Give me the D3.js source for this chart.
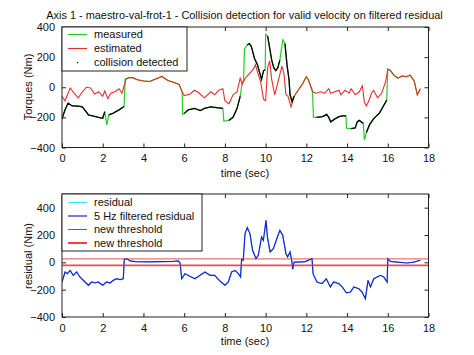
<!DOCTYPE html>
<html>
<head>
<meta charset="utf-8">
<script src="https://cdn.jsdelivr.net/npm/d3@7"></script>
<style>
  html, body { margin: 0; padding: 0; background: #fff; }
  svg { display: block; }
  text { font-family: "Liberation Sans", Arial, Helvetica, sans-serif; fill: #111; }
</style>
</head>
<body>
<script>
// ---------- data ----------
const titleText = "Axis 1 - maestro-val-frot-1 - Collision detection for valid velocity on filtered residual";
const xTicks = [0, 2, 4, 6, 8, 10, 12, 14, 16, 18];
const topYTicks = [-400, -200, 0, 200, 400];
const bottomYTicks = [-400, -200, 0, 200, 400];

const estimatedT = [0,0.15,0.3,0.4,0.6,0.8,1.0,1.2,1.4,1.6,1.8,2.0,2.1,2.25,2.4,2.6,2.8,2.95,3.05,3.15,3.3,3.5,3.7,4.0,4.3,4.6,4.9,5.2,5.5,5.75,5.9,6.0,6.3,6.5,6.7,7.0,7.3,7.5,7.7,7.9,8.0,8.2,8.4,8.6,8.75,8.85,9.0,9.2,9.4,9.5,9.6,9.75,9.9,10.0,10.1,10.2,10.3,10.45,10.6,10.8,10.9,11.0,11.1,11.25,11.4,11.6,11.8,12.0,12.1,12.3,12.5,12.7,12.9,13.1,13.2,13.4,13.6,13.7,13.9,14.1,14.2,14.4,14.6,14.75,14.85,14.95,15.1,15.2,15.3,15.5,15.7,15.9,16.0,16.1,16.3,16.5,16.7,16.9,17.1,17.3,17.45,17.6];
const estimatedV = [-60,-90,-40,-5,-40,-70,-30,0,-5,-45,-30,-60,-25,-75,-40,-30,-10,-40,10,55,65,62,50,42,38,55,72,45,32,18,-30,-55,-45,-20,-35,-70,-30,-50,-20,-10,-90,-110,-50,-30,60,20,60,90,120,150,100,40,-80,-90,130,175,50,-50,30,140,90,-50,-60,-130,-60,-20,20,70,50,-30,-40,-30,-40,-10,-40,-30,-20,-50,-20,-40,-10,-50,-30,10,-100,-125,-80,-40,-20,-70,-40,40,120,115,80,60,75,70,80,40,-50,-10];

const measuredT = [0,0.15,0.3,0.5,0.8,1.0,1.3,1.5,1.8,2.0,2.1,2.2,2.3,2.5,2.8,3.05,3.1,3.15,3.3,3.5,3.7,4.0,4.3,4.6,4.9,5.2,5.5,5.75,5.9,5.92,6.0,6.2,6.5,6.8,7.0,7.3,7.6,7.9,7.95,8.2,8.4,8.6,8.75,8.85,8.92,8.96,9.1,9.2,9.3,9.45,9.6,9.7,9.8,9.9,9.98,10.0,10.1,10.2,10.3,10.4,10.5,10.6,10.7,10.75,10.85,10.95,11.05,11.15,11.2,11.3,11.4,11.6,11.8,12.0,12.1,12.3,12.35,12.5,12.8,13.0,13.1,13.2,13.4,13.6,13.8,13.95,13.97,14.2,14.4,14.5,14.6,14.8,14.85,14.95,15.1,15.3,15.6,15.95,16.0,16.1,16.3,16.5,16.7,16.9,17.1,17.3,17.45,17.6];
const measuredV = [-210,-150,-106,-124,-125,-130,-184,-190,-200,-206,-162,-250,-184,-173,-150,-128,55,55,65,62,50,42,38,55,72,45,32,18,-30,-180,-175,-150,-140,-155,-140,-130,-135,-140,-225,-220,-200,-140,-60,27,50,253,281,290,270,193,150,100,53,110,115,352,340,260,180,130,110,130,180,230,315,290,150,50,-50,-95,-60,-20,20,70,50,-20,-200,-200,-195,-180,-200,-230,-210,-195,-190,-190,-272,-275,-270,-230,-220,-240,-350,-300,-250,-210,-170,-85,120,115,80,60,75,70,80,40,-50,-10];

// time intervals where a collision was flagged (black dots)
const detectedStart = [0, 2.25, 5.95, 7.97, 8.97, 10.02, 10.87, 12.37, 13.98, 14.9];
const detectedEnd   = [2.15, 3.05, 7.92, 8.8, 9.98, 10.72, 11.4, 13.95, 14.83, 15.95];

const filteredT = [0,0.15,0.26,0.4,0.55,0.72,0.88,1.13,1.3,1.46,1.62,1.78,2.0,2.19,2.36,2.52,2.68,2.85,3.01,3.06,3.18,3.35,3.6,4.2,4.8,5.4,5.71,5.8,5.88,6.04,6.28,6.53,6.78,7.02,7.27,7.5,7.76,8.0,8.17,8.33,8.5,8.66,8.77,8.82,8.9,8.99,9.1,9.23,9.36,9.53,9.64,9.8,9.89,10.02,10.09,10.22,10.38,10.55,10.7,10.84,11.0,11.08,11.2,11.28,11.33,11.4,11.6,11.95,12.28,12.33,12.52,12.77,12.98,13.18,13.34,13.59,13.76,13.97,14.17,14.33,14.58,14.74,14.9,15.03,15.15,15.31,15.48,15.64,15.8,15.97,16.0,16.13,16.45,16.95,17.28,17.6];
const filteredV = [-144,-71,-83,-59,-95,-71,-107,-144,-168,-144,-151,-144,-168,-144,-151,-132,-120,-127,-120,22,27,10,5,4,5,6,10,-5,-120,-83,-102,-120,-95,-71,-95,-95,-137,-168,-144,-71,-59,-83,-107,22,15,210,254,210,88,27,51,185,161,307,185,76,100,173,234,198,63,39,76,15,-51,2,2,5,27,-83,-144,-156,-120,-180,-144,-156,-180,-224,-217,-180,-193,-217,-266,-132,-180,-120,-107,-95,-107,-144,27,7,2,-5,2,15];
const residualT = filteredT.slice();
const residualV = filteredV.slice();
const thresholdValues = [25, -22];

const topLegend = ["measured", "estimated", "collision detected"];
const bottomLegend = ["residual", "5 Hz filtered residual", "new threshold", "new threshold"];

// ---------- drawing ----------
const W = 474, H = 355;
const svg = d3.select("body").append("svg").attr("width", W).attr("height", H);
svg.append("rect").attr("width", W).attr("height", H).attr("fill", "#fff");

const C = { green: "#22d022", red: "#ec2c2c", black: "#000", blue: "#2020d0", cyan: "#35e8f0", axis: "#222" };

const x = d3.scaleLinear().domain([0, 18]).range([62, 428.5]);
const yTop = d3.scaleLinear().domain([-400, 400]).range([147.5, 27]);
const yBot = d3.scaleLinear().domain([-400, 500]).range([317, 194]);

function zip(t, v) { return t.map((d, i) => [d, v[i]]); }

function drawAxes(y, yTicks, clipId) {
  const [x0, x1] = x.range();
  const [yb, yt] = y.range();
  svg.append("clipPath").attr("id", clipId).append("rect")
    .attr("x", x0).attr("y", yt).attr("width", x1 - x0).attr("height", yb - yt);
  const g = svg.append("g");
  const tl = 4;
  g.append("g").attr("transform", `translate(0,${yb})`)
    .call(d3.axisBottom(x).tickValues(xTicks).tickSize(-tl).tickPadding(7).tickFormat(d3.format("d")))
    .call(s => s.select(".domain").remove());
  g.append("g").attr("transform", `translate(0,${yt})`)
    .call(d3.axisTop(x).tickValues(xTicks).tickSize(-tl).tickFormat(""))
    .call(s => s.select(".domain").remove());
  g.append("g").attr("transform", `translate(${x0},0)`)
    .call(d3.axisLeft(y).tickValues(yTicks).tickSize(-tl).tickPadding(7).tickFormat(d3.format("d")))
    .call(s => s.select(".domain").remove());
  g.append("g").attr("transform", `translate(${x1},0)`)
    .call(d3.axisRight(y).tickValues(yTicks).tickSize(-tl).tickFormat(""))
    .call(s => s.select(".domain").remove());
  g.selectAll(".tick line").attr("stroke", C.axis);
  g.selectAll(".tick text").attr("font-size", 11).attr("fill", "#111")
    .attr("font-family", '"Liberation Sans", Arial, sans-serif');
  return g;
}

function drawBox(y) {
  const [x0, x1] = x.range();
  const [yb, yt] = y.range();
  svg.append("rect").attr("x", x0).attr("y", yt).attr("width", x1 - x0).attr("height", yb - yt)
    .attr("fill", "none").attr("stroke", C.axis).attr("stroke-width", 1);
}

// ---- top panel ----
drawAxes(yTop, topYTicks, "clipTop");
const lineTop = d3.line().x(d => x(d[0])).y(d => yTop(d[1]));
const gTop = svg.append("g").attr("clip-path", "url(#clipTop)");
const measured = zip(measuredT, measuredV);
gTop.append("path").datum(measured).attr("d", lineTop)
  .attr("fill", "none").attr("stroke", C.green).attr("stroke-width", 1.2);
gTop.append("path").datum(zip(estimatedT, estimatedV)).attr("d", lineTop)
  .attr("fill", "none").attr("stroke", C.red).attr("stroke-width", 1.1);
detectedStart.forEach((s, i) => {
  const seg = measured.filter(d => d[0] >= s && d[0] <= detectedEnd[i]);
  gTop.append("path").datum(seg).attr("d", lineTop)
    .attr("fill", "none").attr("stroke", C.black).attr("stroke-width", 1.3);
});
drawBox(yTop);

// top legend
const lgT = svg.append("g");
lgT.append("rect").attr("x", 62).attr("y", 27).attr("width", 125).attr("height", 44)
  .attr("fill", "#fff").attr("stroke", C.axis);
const topLegY = [34.5, 48.5, 62.5];
lgT.append("line").attr("x1", 68).attr("x2", 87).attr("y1", topLegY[0]).attr("y2", topLegY[0]).attr("stroke", C.green).attr("stroke-width", 1.1);
lgT.append("line").attr("x1", 68).attr("x2", 87).attr("y1", topLegY[1]).attr("y2", topLegY[1]).attr("stroke", C.red).attr("stroke-width", 1.1);
lgT.append("rect").attr("x", 77).attr("y", topLegY[2] - 0.5).attr("width", 1.2).attr("height", 1.2).attr("fill", C.black);
topLegend.forEach((t, i) => {
  lgT.append("text").attr("x", 94).attr("y", topLegY[i]).attr("dy", "0.35em")
    .attr("font-size", 11).text(t);
});

// ---- bottom panel ----
drawAxes(yBot, bottomYTicks, "clipBot");
const lineBot = d3.line().x(d => x(d[0])).y(d => yBot(d[1]));
const gBot = svg.append("g").attr("clip-path", "url(#clipBot)");
gBot.append("path").datum(zip(residualT, residualV)).attr("d", lineBot)
  .attr("fill", "none").attr("stroke", C.cyan).attr("stroke-width", 1.1);
gBot.append("path").datum(zip(filteredT, filteredV)).attr("d", lineBot)
  .attr("fill", "none").attr("stroke", C.blue).attr("stroke-width", 1.2);
thresholdValues.forEach((v, i) => {
  gBot.append("line").attr("x1", x(0) - 1).attr("x2", x(18)).attr("y1", yBot(v)).attr("y2", yBot(v))
    .attr("stroke", C.red).attr("stroke-width", i === 0 ? 1 : 1.8).attr("stroke-opacity", 0.85);
});
drawBox(yBot);

// bottom legend
const lgB = svg.append("g");
lgB.append("rect").attr("x", 62).attr("y", 194).attr("width", 140).attr("height", 57)
  .attr("fill", "#fff").attr("stroke", C.axis);
const botLegY = [202.5, 216, 229.5, 243];
const botLegColor = [C.cyan, C.blue, C.red, C.red];
const botLegW = [1.1, 1.2, 1, 1.8];
bottomLegend.forEach((t, i) => {
  lgB.append("line").attr("x1", 68).attr("x2", 87).attr("y1", botLegY[i]).attr("y2", botLegY[i])
    .attr("stroke", botLegColor[i]).attr("stroke-width", botLegW[i]);
  lgB.append("text").attr("x", 94).attr("y", botLegY[i]).attr("dy", "0.35em")
    .attr("font-size", 11).text(t);
});

// ---- titles / axis labels ----
const title = svg.append("text").attr("x", 244.5).attr("y", 15).attr("dy", "0.35em")
  .attr("text-anchor", "middle").attr("font-size", 11).text(titleText);
const tw = title.node().getComputedTextLength();
if (tw > 0) title.attr("font-size", 11 * 397 / tw);

svg.append("text").attr("x", 245).attr("y", 173).attr("dy", "0.35em")
  .attr("text-anchor", "middle").attr("font-size", 11).text("time (sec)");
svg.append("text").attr("x", 245).attr("y", 341.5).attr("dy", "0.35em")
  .attr("text-anchor", "middle").attr("font-size", 11).text("time (sec)");
svg.append("text").attr("transform", "translate(28,87) rotate(-90)").attr("dy", "0.35em")
  .attr("text-anchor", "middle").attr("font-size", 11).text("Torques (Nm)");
svg.append("text").attr("transform", "translate(28,256) rotate(-90)").attr("dy", "0.35em")
  .attr("text-anchor", "middle").attr("font-size", 11).text("residual (Nm)");
</script>
</body>
</html>
